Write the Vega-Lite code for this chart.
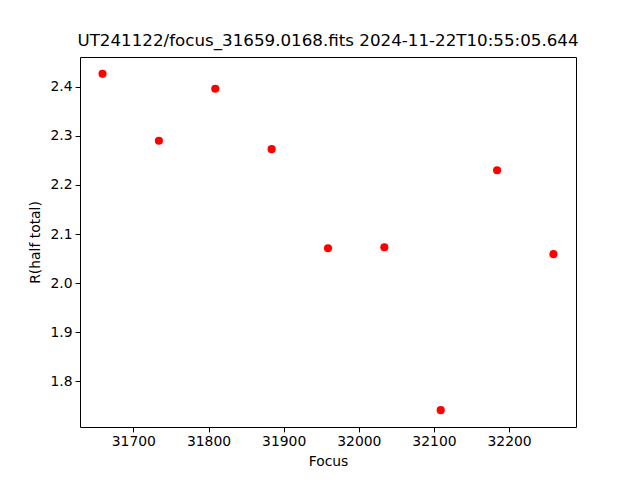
{
  "$schema": "https://vega.github.io/schema/vega-lite/v6.json",
  "width": 496,
  "height": 370,
  "autosize": "none",
  "padding": {"left": 80, "top": 57, "right": 64, "bottom": 53},
  "background": "white",
  "title": {
    "text": "UT241122/focus_31659.0168.fits 2024-11-22T10:55:05.644",
    "font": "DejaVu Sans",
    "fontSize": 16.7,
    "fontWeight": "normal",
    "color": "black",
    "offset": 7,
    "anchor": "middle"
  },
  "config": {
    "view": {"stroke": "black", "strokeWidth": 1},
    "axis": {
      "grid": false,
      "domain": false,
      "tickColor": "black",
      "tickSize": 4.9,
      "tickWidth": 1,
      "labelFont": "DejaVu Sans",
      "labelFontSize": 13.9,
      "labelColor": "black",
      "labelPadding": 3,
      "titleFont": "DejaVu Sans",
      "titleFontSize": 13.9,
      "titleFontWeight": "normal",
      "titleColor": "black"
    }
  },
  "data": {
    "values": [
      {"focus": 31659, "r": 2.4265},
      {"focus": 31734, "r": 2.290},
      {"focus": 31809, "r": 2.396},
      {"focus": 31884, "r": 2.273},
      {"focus": 31959, "r": 2.071},
      {"focus": 32034, "r": 2.073},
      {"focus": 32109, "r": 1.741},
      {"focus": 32184, "r": 2.230},
      {"focus": 32259, "r": 2.059}
    ]
  },
  "mark": {"type": "point", "filled": true, "shape": "circle", "size": 66, "color": "#ff0000", "opacity": 1},
  "encoding": {
    "x": {
      "field": "focus",
      "type": "quantitative",
      "title": "Focus",
      "scale": {"domain": [31629, 32289], "nice": false, "zero": false},
      "axis": {"values": [31700, 31800, 31900, 32000, 32100, 32200], "format": "d", "titlePadding": 6}
    },
    "y": {
      "field": "r",
      "type": "quantitative",
      "title": "R(half total)",
      "scale": {"domain": [1.7067, 2.4608], "nice": false, "zero": false},
      "axis": {"values": [1.8, 1.9, 2.0, 2.1, 2.2, 2.3, 2.4], "format": ".1f", "titlePadding": 8}
    }
  }
}
